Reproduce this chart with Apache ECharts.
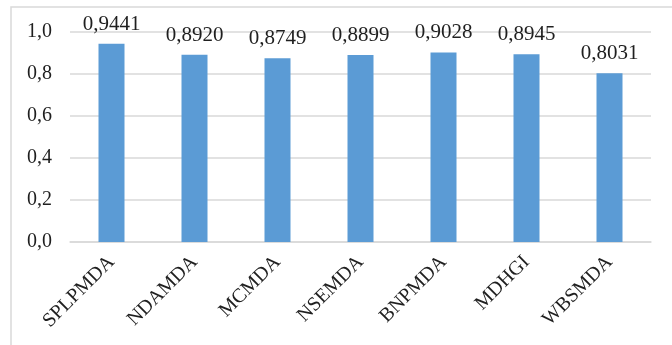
<!DOCTYPE html>
<html>
<head>
<meta charset="utf-8">
<script src="https://cdn.jsdelivr.net/npm/echarts@6/dist/echarts.min.js"></script>
<style>
  html, body { margin: 0; padding: 0; background: #fff; }
  #main { width: 672px; height: 345px; }
</style>
</head>
<body>
<div id="main"></div>
<script>
// methods and their scores
var categories = ['SPLPMDA', 'NDAMDA', 'MCMDA', 'NSEMDA', 'BNPMDA', 'MDHGI', 'WBSMDA'];
var scores = [0.9441, 0.8920, 0.8749, 0.8899, 0.9028, 0.8945, 0.8031];

var FONT = '"Liberation Serif", "Times New Roman", serif';
var TEXT = '#1f1f1f';

function comma(v, d) {
	return v.toFixed(d).replace('.', ',');
}

var myChart = echarts.init(document.getElementById('main'));

var option = {
	animation: false,
	backgroundColor: '#fff',
	graphic: [{
		// chart frame (only left & top visible in the picture)
		type: 'rect',
		shape: { x: 11, y: 7, width: 700, height: 400 },
		style: { fill: 'none', stroke: '#D9D9D9', lineWidth: 1.5 },
		silent: true
	}],
	grid: {
		left: 70,
		right: 21,
		top: 32,
		bottom: 103
	},
	xAxis: {
		type: 'category',
		data: categories,
		axisLine: { show: true, lineStyle: { color: '#D9D9D9', width: 1.5 } },
		axisTick: { show: false },
		axisLabel: {
			interval: 0,
			rotate: 45,
			margin: 17,
			color: TEXT,
			fontFamily: FONT,
			fontSize: 20
		}
	},
	yAxis: {
		type: 'value',
		min: 0,
		max: 1,
		interval: 0.2,
		axisLine: { show: false },
		axisTick: { show: false },
		splitLine: { lineStyle: { color: '#D9D9D9', width: 1.5 } },
		axisLabel: {
			margin: 18,
			color: TEXT,
			fontFamily: FONT,
			fontSize: 20,
			formatter: function(v) { return comma(v, 1); }
		}
	},
	series: [{
		type: 'bar',
		data: scores,
		barWidth: 26,
		itemStyle: { color: '#5B9BD5' },
		label: {
			show: true,
			position: 'top',
			distance: 9,
			color: TEXT,
			fontFamily: FONT,
			fontSize: 21,
			formatter: function(p) { return comma(p.value, 4); }
		}
	}]
};

myChart.setOption(option);
</script>
</body>
</html>
